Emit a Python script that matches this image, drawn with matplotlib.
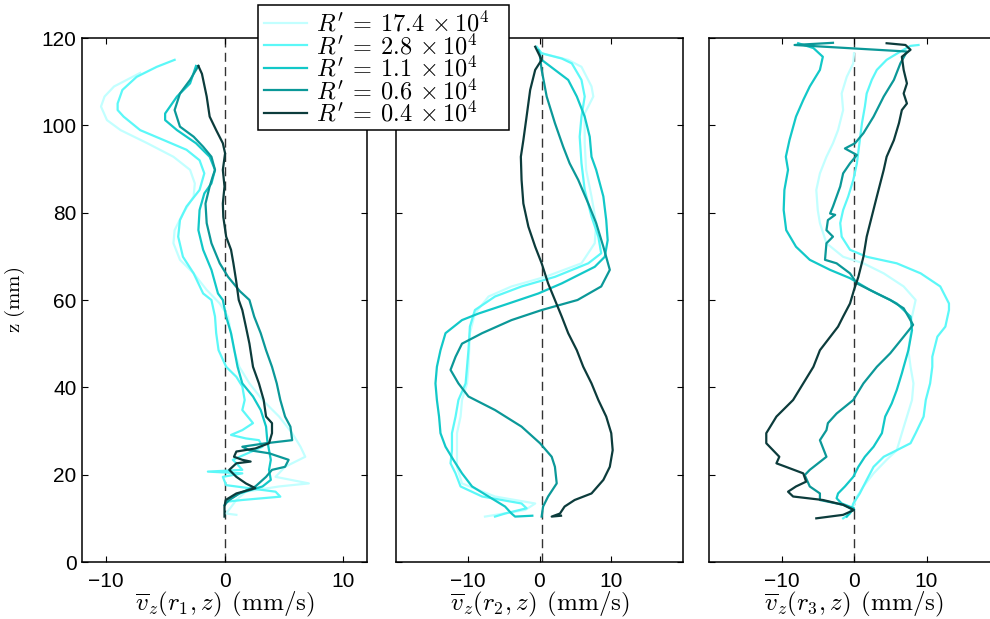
import matplotlib
matplotlib.use("Agg")
import matplotlib.pyplot as plt
from matplotlib.patches import Rectangle

plt.rcParams['mathtext.fontset'] = 'cm'
plt.rcParams['font.family'] = ['Liberation Sans', 'DejaVu Sans']

# ---------------- data ----------------
labels = [r"$R'\:=\:17.4\,\times10^4$", r"$R'\:=\:2.8\,\times10^4$", r"$R'\:=\:1.1\,\times10^4$",
          r"$R'\:=\:0.6\,\times10^4$", r"$R'\:=\:0.4\,\times10^4$"]
colors = ['#c2ffff', '#5cf8f8', '#12c8c8', '#0b9898', '#0c3c3c']

x_ticks = [-10, 0, 10]
y_ticks = [0, 20, 40, 60, 80, 100, 120]
x_labels = [r"$\overline{v}_z(r_1,z)\;\,\mathrm{(mm/s)}$",
            r"$\overline{v}_z(r_2,z)\;\,\mathrm{(mm/s)}$",
            r"$\overline{v}_z(r_3,z)\;\,\mathrm{(mm/s)}$"]

# ---- panel r1 ----
z_r1_174 = [112, 108.9, 106.6, 104.3, 101.2, 98.9, 95.9, 92.8, 89.8, 86.7, 83.7, 79.8, 76, 73, 69.2, 66.1, 62.3, 59.2, 56.2, 52.4, 48.5, 44.7, 40.9, 37.1, 33.3, 29.5, 26.4, 24.1, 21.8, 19.5, 18, 17.3, 16.1, 14.2, 11.1, 10.8]
v_r1_174 = [-7.1, -9.3, -10.1, -10.4, -9.9, -8.75, -6.5, -4.3, -2.9, -2.5, -2.6, -3.5, -4.2, -4.3, -3.75, -2.6, -1.5, -0.4, 0.3, 0.55, 0.8, 1.25, 2.1, 3.2, 4.6, 5.7, 6.4, 6.8, 5.1, 4.3, 7.1, 4.6, 1.8, 1.0, 0.14, 1.0]
z_r1_28 = [115, 113.4, 111.1, 108.1, 105, 103.5, 102, 98.9, 96.6, 94.4, 92, 89, 85.2, 81.4, 78.3, 74.5, 69.9, 66.1, 61.5, 60, 56.2, 52.4, 48.5, 44.7, 42.4, 40.2, 37.1, 34.8, 31.8, 30.2, 29.1, 28.3, 27.9, 26.4, 23.4, 22.6, 21.1, 20.7, 20.3, 19.5, 17.6, 16.1, 14.96, 14.2, 13.8]
v_r1_28 = [-4.2, -5.7, -7.4, -8.6, -9.0, -9.0, -8.5, -7.1, -5.1, -3.2, -2.1, -1.7, -2.1, -3.2, -3.75, -3.9, -3.5, -2.6, -1.8, -1.1, -0.8, -0.7, -0.5, 0.14, 1.0, 1.5, 1.7, 1.5, 2.4, 1.5, 0.55, 1.8, 2.9, 3.2, 0.7, 1.0, 1.5, -1.4, 1.5, -0.14, 0.14, 4.3, 4.7, 1.5, 0.14]
z_r1_11 = [113.6, 109.6, 106.6, 102.7, 101.2, 98.9, 95.9, 92.8, 89.8, 86.7, 84.4, 80.6, 76, 71.5, 66.9, 61.5, 60, 56.2, 52.4, 48.5, 44.7, 40.9, 37.9, 34.8, 31, 27.9, 25.6, 23.4, 21.1, 18.8, 17.3, 15.7, 14.2, 13]
v_r1_11 = [-2.4, -2.9, -4.0, -5.0, -5.0, -4.0, -2.4, -1.25, -0.8, -1.1, -1.7, -2.1, -2.2, -1.8, -1.1, -0.55, -0.14, 0.14, 0.55, 0.83, 1.1, 1.5, 2.4, 3.05, 3.5, 3.6, 3.75, 3.9, 3.75, 3.9, 3.2, 1.25, 0.3, 0]
z_r1_06 = [113.6, 110.4, 107.3, 103.5, 99.7, 97.4, 95.1, 92.8, 89.8, 88.2, 86, 82.1, 77.6, 73, 68.4, 65.3, 62, 60, 56.2, 52.4, 48.5, 44.7, 40.9, 37.1, 33.3, 31, 27.9, 27.2, 26.4, 25.6, 24.9, 23.4, 21.8, 21.1, 19.5, 17.3, 15.7, 14.2, 13.4]
v_r1_06 = [-2.2, -2.9, -3.75, -4.2, -3.75, -2.6, -1.8, -1.1, -0.8, -1.0, -1.25, -1.6, -1.5, -1.1, -0.4, 0.3, 1.3, 2.1, 2.5, 3.05, 3.5, 4.0, 4.4, 4.7, 5.1, 5.55, 5.7, 3.5, 1.5, 2.1, 3.75, 5.4, 5.1, 4.0, 3.5, 2.6, 1.25, 0.4, 0.1]
z_r1_04 = [113.6, 111.8, 106.6, 102, 98.9, 95.9, 93.6, 89.8, 86, 82.1, 79, 74.5, 71.5, 68.4, 64.6, 60, 57.7, 53.9, 50, 44.7, 40.9, 37.1, 33.3, 31.8, 29.5, 27.2, 26, 25.3, 24.1, 23.4, 23, 22.6, 21.1, 19.5, 18, 16.9, 15.7, 14.2, 12.7, 10.4]
v_r1_04 = [-2.2, -1.9, -1.5, -1.25, -0.7, -0.14, 0.05, -0.14, 0, -0.14, -0.1, 0.14, 0.55, 0.75, 0.97, 1.2, 1.5, 1.8, 2.1, 2.4, 2.9, 3.3, 3.5, 4.0, 4.0, 3.75, 2.6, 1.0, 0.8, 1.5, 2.2, 1.0, 0.4, 1.0, 1.8, 2.6, 1.0, 0.1, 0, 0]

# ---- panel r2 ----
z_r2_174 = [116.5, 115, 113.4, 108.9, 106.6, 102.7, 95.9, 89.8, 83.7, 77.6, 73, 68.4, 65.3, 63.1, 60.8, 56.9, 52.4, 44.7, 40.9, 37.1, 33.3, 29.5, 25.6, 21.8, 18, 15, 13.4, 11.9, 10.4]
v_r2_174 = [0.3, 4.0, 5.85, 7.25, 7.5, 6.3, 6.3, 6.5, 7.25, 7.9, 7.7, 5.85, 0.8, -3.9, -7.1, -9.0, -9.7, -9.9, -10.1, -10.8, -11.0, -11.5, -11.5, -11.5, -10.8, -6.2, -0.6, -2.0, -7.6]
z_r2_28 = [118, 116.5, 115.3, 114.2, 110.4, 106.6, 102, 97.4, 91.3, 85.2, 79.1, 74.5, 70.7, 68.4, 65.3, 63.1, 60.8, 57.7, 53.9, 48.5, 44.7, 40.9, 37.1, 33.3, 29.5, 25.6, 22.6, 20.3, 17.3, 15, 13.4, 12.3, 11.1, 10.4]
v_r2_28 = [-0.4, 0.3, 3.1, 4.5, 5.85, 6.3, 5.85, 5.6, 5.85, 6.3, 7.25, 8.2, 8.6, 6.8, 2.15, -2.5, -6.2, -9.0, -9.7, -9.9, -10.1, -10.3, -11.3, -11.7, -12.2, -12.2, -12.4, -11.7, -11.0, -8.0, -2.5, -1.8, -4.8, -6.2]
z_r2_11 = [117.2, 115, 110.4, 106.6, 102, 97.4, 92.8, 89.8, 83.7, 78.3, 73.7, 69.9, 67.6, 63.8, 61.5, 59.2, 56.9, 55.4, 52.4, 48.5, 44.7, 40.9, 37.1, 33.3, 29.5, 26.4, 23.4, 20.3, 17.3, 15, 12.7, 11.1, 10.4, 10.6]
v_r2_11 = [-0.15, 0.3, 4.0, 5.2, 6.3, 7.0, 7.25, 7.9, 8.9, 9.3, 9.5, 9.1, 7.7, 3.1, -0.15, -4.3, -8.5, -10.8, -13.1, -13.8, -14.3, -14.5, -14.3, -14.0, -13.8, -13.1, -12.0, -10.8, -9.4, -7.1, -4.8, -3.9, -3.4, -1.0]
z_r2_06 = [115.7, 112.7, 106.6, 100.5, 95.1, 91.3, 87.5, 82.1, 77.6, 72.2, 66.9, 63.1, 60, 57.7, 55.4, 52.4, 50, 47, 44, 40.9, 37.9, 34.8, 31, 27.2, 24.1, 21.8, 18, 15, 12.7, 10.4]
v_r2_06 = [0.07, 0.3, 1.0, 2.15, 3.3, 4.2, 5.4, 6.8, 7.9, 8.9, 9.8, 8.6, 5.3, 0.3, -3.9, -8.0, -10.8, -11.7, -12.4, -11.3, -9.9, -6.2, -2.5, 0.07, 1.7, 2.15, 2.4, 1.2, 0.5, 0.3]
z_r2_04 = [118, 115, 112.7, 108.1, 102, 96.6, 92.8, 87.5, 82.1, 76.8, 72.2, 68.4, 63.8, 60, 56.2, 52.4, 48.5, 44.7, 40.9, 37.1, 33.3, 29.5, 25.6, 21.8, 18.8, 15.7, 14.2, 12.7, 11.1, 10.4, 10.6]
v_r2_04 = [-0.6, 0.3, -0.6, -1.3, -1.8, -2.25, -2.6, -2.5, -2.25, -1.55, -0.6, 0.3, 1.2, 2.15, 3.1, 4.0, 5.2, 6.1, 7.25, 8.2, 9.3, 10.0, 10.2, 9.8, 8.9, 7.25, 4.9, 3.5, 2.85, 1.7, 3.0]

# ---- panel r3 ----
z_r3_174 = [116.5, 114.2, 111.1, 107.3, 103.5, 98.9, 95.9, 92.8, 89, 85.2, 80.6, 77.6, 73, 69.9, 68.4, 66.1, 63.1, 60, 56.2, 52.4, 48.5, 44.7, 40.9, 37.1, 33.3, 29.5, 25.6, 23.4, 20.3, 17.3, 15, 12.7, 10.4]
v_r3_174 = [0, -0.1, -1.0, -1.7, -1.5, -2.2, -2.9, -3.8, -4.7, -5.2, -5.0, -4.7, -3.8, -1.5, 1.3, 4.1, 6.85, 8.5, 8.0, 7.8, 7.5, 7.8, 8.2, 8.0, 7.3, 6.6, 5.9, 4.5, 2.7, 1.3, 0.4, -0.1, -1.0]
z_r3_28 = [118.4, 118.2, 116.9, 115, 112.7, 110.4, 107.3, 104.3, 100.5, 96.6, 91.3, 87.5, 83.7, 80.6, 77.6, 74.5, 71.5, 69.9, 68.4, 66.1, 63.1, 59.2, 57.7, 53.9, 51.6, 47, 44.7, 40.9, 37.1, 33.3, 29.5, 27.2, 25.6, 24.1, 21.8, 18.8, 15.7, 13.4, 11.1, 10]
v_r3_28 = [8.9, 7.8, 6.4, 4.5, 3.15, 2.45, 1.75, 1.5, 1.1, 0.8, 0.4, -0.1, -0.8, -1.5, -1.9, -1.7, -0.55, 1.75, 5.9, 9.2, 11.9, 13.1, 13.1, 12.6, 11.5, 10.8, 10.8, 10.5, 9.9, 9.6, 8.5, 7.8, 5.9, 4.1, 2.7, 1.75, 0.8, -0.1, -0.55, -1.5]
z_r3_11 = [118.8, 117.7, 115.7, 112.7, 108.9, 105.8, 102, 96.6, 92.8, 89.8, 85.2, 80.6, 76, 72.2, 69.2, 66.9, 65, 62.3, 60, 59.2, 56.2, 53.1, 48.5, 44.7, 43.2, 39.4, 36.3, 33.3, 29.5, 26.4, 24.1, 21.8, 19.5, 17.3, 15.7, 14.6, 13.4, 12.3, 10.4]
v_r3_11 = [-7.7, -5.6, -4.3, -4.7, -6.1, -7.0, -8.0, -8.9, -9.4, -9.1, -9.6, -9.7, -9.35, -8.0, -6.1, -3.3, -0.55, 2.2, 5.0, 5.9, 7.8, 8.0, 7.5, 6.85, 6.6, 5.9, 5.2, 4.3, 3.85, 2.7, 1.5, 0.6, -0.1, -1.25, -2.2, -2.4, -1.7, 0, -1.0]
z_r3_06 = [118.9, 118.4, 116.9, 114.2, 110.4, 106.6, 102, 98.2, 95.9, 94.7, 93.2, 91.3, 89, 86, 83.7, 81.4, 79.8, 79.5, 78.3, 76, 74.5, 73, 69.2, 68.4, 66.1, 63.8, 61.5, 60, 58.1, 54.3, 51.6, 47.8, 44.7, 40.9, 37.1, 34, 31.8, 30.2, 27.9, 24.1, 21.1, 19.9, 17.3, 15.7, 14.2, 13.1, 11.9]
v_r3_06 = [-2.9, -8.2, 7.3, 6.4, 5.5, 4.1, 2.7, 1.3, 0.14, -1.25, 0.4, -0.55, -1.5, -1.9, -2.4, -2.9, -3.3, -2.6, -3.6, -3.8, -2.9, -3.8, -4.0, -2.4, -0.55, 0.4, 3.15, 5.0, 6.85, 8.15, 6.85, 5.0, 3.15, 1.3, -0.1, -2.4, -3.6, -3.8, -4.7, -3.8, -6.1, -6.8, -6.1, -4.7, -4.7, -1.5, 0]
z_r3_04 = [118.8, 118.4, 117.3, 115.7, 112.7, 109.6, 107.3, 105, 103.5, 100.5, 96.6, 92.8, 89.8, 83.7, 79.1, 74.5, 69.9, 65.3, 62.3, 59.2, 56.2, 53.9, 48.5, 44.7, 40.9, 37.1, 33.3, 29.5, 27.2, 24.1, 22.6, 21.8, 20.3, 18.4, 17.3, 16.1, 15, 14.2, 13.1, 11.9, 10.8, 10]
v_r3_04 = [4.5, 7.1, 7.8, 6.6, 6.85, 7.3, 6.85, 7.3, 6.6, 6.2, 5.5, 4.5, 4.1, 3.15, 2.45, 1.75, 1.3, 0.6, 0, -0.55, -1.5, -2.2, -4.7, -5.6, -7.0, -8.4, -10.7, -12.1, -12.1, -10.3, -10.7, -9.4, -7.0, -6.6, -8.0, -9.1, -8.4, -4.3, -1.5, 0, -1.5, -5.2]

panels = [
    dict(v=[v_r1_174, v_r1_28, v_r1_11, v_r1_06, v_r1_04],
         z=[z_r1_174, z_r1_28, z_r1_11, z_r1_06, z_r1_04], xlim=(-12, 12), zero=0.0),
    dict(v=[v_r2_174, v_r2_28, v_r2_11, v_r2_06, v_r2_04],
         z=[z_r2_174, z_r2_28, z_r2_11, z_r2_06, z_r2_04], xlim=(-20, 20), zero=0.35),
    dict(v=[v_r3_174, v_r3_28, v_r3_11, v_r3_06, v_r3_04],
         z=[z_r3_174, z_r3_28, z_r3_11, z_r3_06, z_r3_04], xlim=(-20, 20), zero=0.0),
]

# ---------------- figure ----------------
W, H = 990, 619
fig = plt.figure(figsize=(W / 100, H / 100), dpi=100)
ax_px = [(82, 285), (396, 287), (709, 290)]
bottom = 1 - 562 / H
height = (562 - 38) / H

handles = None
for i, (p, (lx, w)) in enumerate(zip(panels, ax_px)):
    ax = fig.add_axes([lx / W, bottom, w / W, height])
    ax.axvline(p['zero'], color='#333333', lw=1.0, ls=(0, (6.5, 3.8)), zorder=1)
    hs = []
    for vv, zz, c, lab in zip(p['v'], p['z'], colors, labels):
        h, = ax.plot(vv, zz, color=c, lw=1.6, label=lab, zorder=2, solid_joinstyle='round')
        hs.append(h)
    if handles is None:
        handles = hs
    ax.set_xlim(*p['xlim'])
    ax.set_ylim(0, 120)
    ax.set_xticks(x_ticks)
    ax.set_yticks(y_ticks)
    ax.tick_params(direction='in', length=4.5, width=0.8, top=True, right=True,
                   labelsize=15)
    ax.tick_params(axis='x', pad=7.5)
    ax.tick_params(axis='y', pad=4)
    if i > 0:
        ax.set_yticklabels([])
    else:
        ax.set_ylabel(r'$\mathrm{z\ (mm)}$', fontsize=15, labelpad=10)
    ax.set_xlabel(x_labels[i], fontsize=18, labelpad=-1)
    for s in ax.spines.values():
        s.set_linewidth(1.1)
        s.set_color('black')

# legend box (MATLAB style, with extra right padding)
box = Rectangle((258 / W, 1 - 130 / H), (509 - 258) / W, (130 - 5) / H,
                transform=fig.transFigure, facecolor='white', edgecolor='black',
                linewidth=1.1, zorder=9)
fig.patches.append(box)

leg = fig.legend(handles=handles, loc='upper left',
                 bbox_to_anchor=(258 / W, 1 - 5 / H), borderaxespad=0,
                 fontsize=17.5, handlelength=1.75, labelspacing=-0.12, handletextpad=0.4,
                 borderpad=0.25, frameon=False)
leg.set_zorder(10)

fig.savefig('out.png', dpi=100)
